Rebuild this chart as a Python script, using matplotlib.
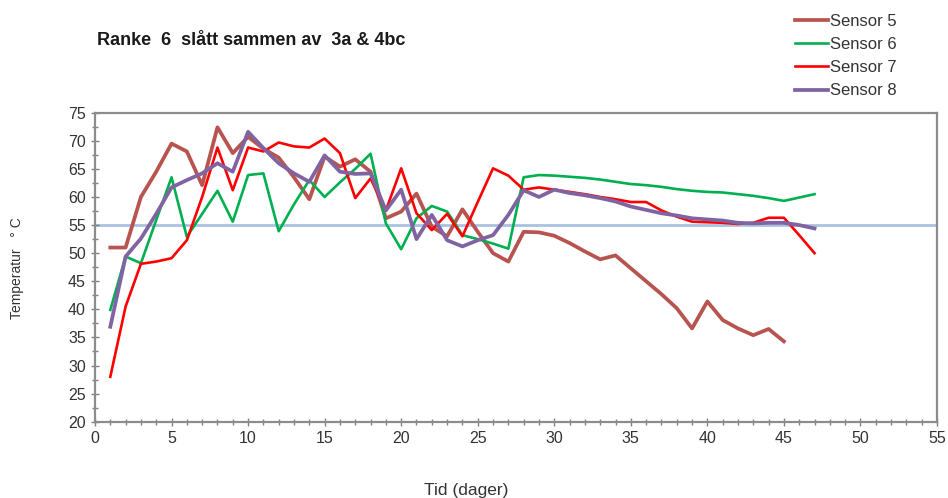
import numpy as np
import matplotlib
matplotlib.use("Agg")
import matplotlib.pyplot as plt
from matplotlib.ticker import MultipleLocator

plt.rcParams['font.family'] = ['Liberation Sans', 'DejaVu Sans']

# temperatures per day
sensor5 = [51.0, 51.0, 60.0, 64.5, 69.5, 68.1, 62.1, 72.4, 67.8, 70.7,
           68.6, 67.0, 63.5, 59.6, 67.2, 65.4, 66.7, 64.5, 56.2, 57.4,
           60.6, 54.7, 53.0, 57.8, 53.8, 50.0, 48.5, 53.8, 53.7, 53.1,
           51.8, 50.3, 48.9, 49.6, 47.3, 45.0, 42.7, 40.2, 36.6, 41.4,
           38.1, 36.6, 35.4, 36.5, 34.3]
sensor6 = [39.9, 49.4, 48.2, 55.9, 63.5, 52.9, 57.0, 61.1, 55.6, 63.9,
           64.2, 53.9, 58.7, 63.0, 60.0, 62.6, 65.0, 67.7, 55.3, 50.7,
           56.2, 58.4, 57.4, 53.2, 52.5, 51.7, 50.8, 63.5, 63.9, 63.8,
           63.6, 63.4, 63.1, 62.7, 62.3, 62.1, 61.8, 61.4, 61.1, 60.9,
           60.8, 60.5, 60.2, 59.8, 59.3, 59.9, 60.5]
sensor7 = [28.0, 40.5, 48.1, 48.5, 49.1, 52.3, 60.0, 68.8, 61.2, 68.8,
           68.1, 69.7, 69.0, 68.8, 70.4, 67.8, 59.8, 63.3, 57.6, 65.1,
           57.1, 54.1, 57.0, 53.0, 59.1, 65.1, 63.8, 61.3, 61.7, 61.3,
           60.9, 60.5, 60.0, 59.6, 59.1, 59.1, 57.6, 56.5, 55.6, 55.5,
           55.4, 55.2, 55.4, 56.3, 56.3, 53.2, 50.0]
sensor8 = [36.9, 49.4, 52.6, 57.0, 61.7, 63.0, 64.2, 66.0, 64.5, 71.6,
           68.7, 66.0, 64.2, 62.7, 67.4, 64.5, 64.1, 64.2, 57.6, 61.3,
           52.5, 56.8, 52.3, 51.2, 52.3, 53.2, 56.8, 61.2, 60.0, 61.3,
           60.7, 60.3, 59.8, 59.2, 58.3, 57.7, 57.1, 56.7, 56.2, 56.0,
           55.8, 55.4, 55.3, 55.4, 55.4, 55.0, 54.4]
reference_temp = 55

series = [("Sensor 5", sensor5, '#B85450', 2.7),
          ("Sensor 6", sensor6, '#00B050', 1.9),
          ("Sensor 7", sensor7, '#FF0000', 1.9),
          ("Sensor 8", sensor8, '#8064A2', 2.7)]

fig = plt.figure(figsize=(9.48, 4.98), dpi=100)
ax = fig.add_axes([0.1002, 0.1532, 0.8882, 0.6205])

ax.axhline(reference_temp, color='#A9C2E0', lw=2, zorder=1)
for name, vals, col, lw in series:
    days = np.arange(1, len(vals) + 1)
    ax.plot(days, vals, color=col, lw=lw, label=name, zorder=2)

ax.set_xlim(0, 55)
ax.set_ylim(20, 75)
ax.xaxis.set_major_locator(MultipleLocator(5))
ax.xaxis.set_minor_locator(MultipleLocator(1))
ax.yaxis.set_major_locator(MultipleLocator(5))
ax.yaxis.set_minor_locator(MultipleLocator(2.5))
ax.tick_params(which='both', direction='inout', color='#808080', labelsize=11.5,
               labelcolor='#333333')
ax.tick_params(which='major', length=6, width=1)
ax.tick_params(which='minor', length=4, width=1)
for s in ax.spines.values():
    s.set_color('#8c8c8c')
    s.set_linewidth(1.6)

fig.text(0.102, 0.918, "Ranke  6  slått sammen av  3a & 4bc", fontsize=13,
         fontweight='bold', ha='left', va='center', color='#1a1a1a')
fig.text(0.018, 0.462, "Temperatur   ° C", rotation=90, fontsize=10,
         ha='center', va='center', color='#333333')
fig.text(0.492, 0.016, "Tid (dager)", fontsize=12.5, ha='center', va='center',
         color='#333333')

leg = fig.legend(loc='upper left', bbox_to_anchor=(0.8386, 0.972), frameon=False,
                 fontsize=12, handlelength=2.0, handletextpad=0.12,
                 labelspacing=0.49, borderpad=0, borderaxespad=0)
for t in leg.get_texts():
    t.set_color('#333333')

fig.savefig("out.png", dpi=100)
